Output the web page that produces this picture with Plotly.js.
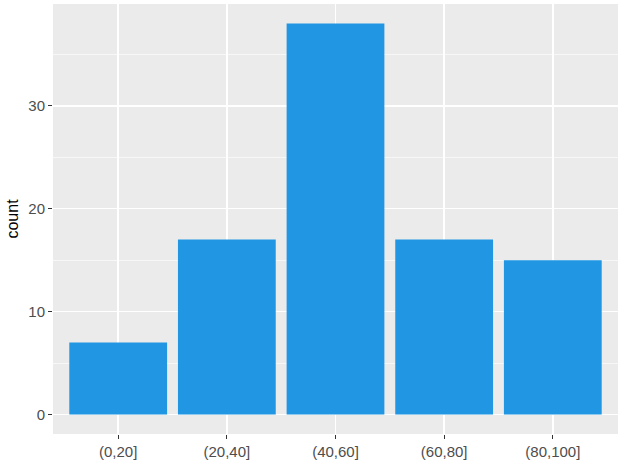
<!DOCTYPE html>
<html>
<head>
<meta charset="utf-8">
<script src="https://cdn.plot.ly/plotly-3.0.1.min.js"></script>
<style>
  html, body { margin: 0; padding: 0; background: #fff; }
  #chart { width: 624px; height: 466px; }
</style>
</head>
<body>
<div id="chart"></div>
<script>
// binned counts
const bins = ['(0,20]', '(20,40]', '(40,60]', '(60,80]', '(80,100]'];
const counts = [7, 17, 38, 17, 15];
const yTicks = [0, 10, 20, 30];

const data = [{
    type: 'bar',
    x: bins,
    y: counts,
    width: 0.9,
    marker: {color: '#2196E3', line: {width: 0}},
    hoverinfo: 'x+y'
}];

const layout = {
    width: 624,
    height: 466,
    margin: {l: 53, r: 6, t: 4, b: 32},
    paper_bgcolor: '#ffffff',
    plot_bgcolor: '#EBEBEB',
    font: {family: 'Liberation Sans, Arial, sans-serif', size: 15, color: '#4D4D4D'},
    showlegend: false,
    bargap: 0.1,
    xaxis: {
        type: 'category',
        range: [-0.6, 4.6],
        showgrid: true,
        gridcolor: '#ffffff',
        gridwidth: 1.4,
        ticks: 'outside',
        ticklen: 4,
        tickwidth: 1,
        tickcolor: '#333333',
        zeroline: false,
        showline: false,
        fixedrange: true
    },
    yaxis: {
        range: [-1.9, 39.9],
        tickvals: yTicks,
        showgrid: true,
        gridcolor: '#ffffff',
        gridwidth: 1.4,
        minor: {dtick: 5, tick0: 0, showgrid: true, gridcolor: '#ffffff', gridwidth: 0.6, ticks: ''},
        ticks: 'outside',
        ticklen: 4,
        tickwidth: 1,
        tickcolor: '#333333',
        zeroline: false,
        showline: false,
        title: {text: 'count', font: {size: 16, color: '#000000'}, standoff: 5},
        fixedrange: true
    }
};

Plotly.newPlot('chart', data, layout, {displayModeBar: false, staticPlot: true});
</script>
</body>
</html>
